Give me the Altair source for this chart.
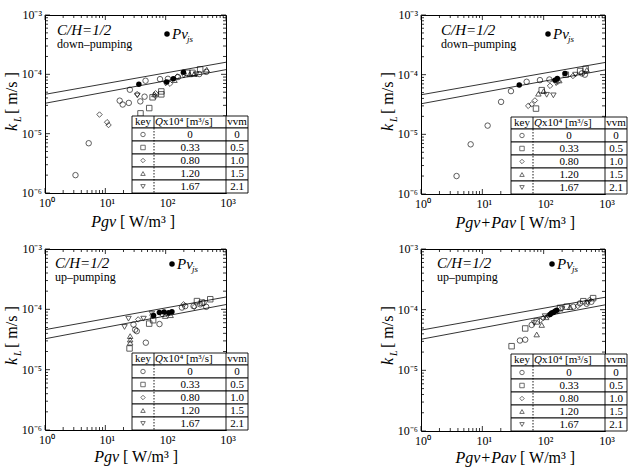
import altair as alt
import pandas as pd

SERIF = "Liberation Serif"

# ---------------- data ----------------
SERIES = ["0", "0.33", "0.80", "1.20", "1.67"]
SHAPES = ["circle", "square", "diamond", "triangle-up", "triangle-down"]
VVM = ["0", "0.5", "1.0", "1.5", "2.1"]

X_TICKS = [1, 10, 100, 1000]
X_TICK_LABELS = ["10⁰", "10¹", "10²", "10³"]
Y_TICKS = [1e-6, 1e-5, 1e-4, 1e-3]
Y_TICK_LABELS = ["10⁻⁶", "10⁻⁵", "10⁻⁴", "10⁻³"]

LINE_P = [1, 1000]
LINE_UPPER = [4.6e-5, 1.6e-4]
LINE_LOWER = [3.25e-5, 1.2e-4]

# panel 1: down-pumping, Pgv
P1_C_P = [3.2, 5.3, 17.3, 19.4, 24.5, 25.5, 38, 44.7, 46.4, 80.6, 109, 160, 360, 470]
P1_C_K = [2.0e-6, 6.9e-6, 3.6e-5, 3.1e-5, 3.3e-5, 5.5e-5, 3.5e-5, 4.2e-5, 7.8e-5, 8.3e-5, 8.4e-5, 9.0e-5, 1.01e-4, 1.1e-4]
P1_S_P = [38.3, 53.4, 60.7, 84.7, 84.7, 230, 278, 373]
P1_S_K = [2.2e-5, 2.7e-5, 4.1e-5, 5.15e-5, 4.6e-5, 1.06e-4, 1.06e-4, 1.21e-4]
P1_D_P = [8.0, 10.7, 11.3, 33.7, 68, 68, 118, 156]
P1_D_K = [2.1e-5, 1.56e-5, 1.4e-5, 4.65e-5, 4.3e-5, 4.8e-5, 6.95e-5, 9.2e-5]
P1_T_P = [65, 140, 250, 297, 480]
P1_T_K = [4.6e-5, 8.0e-5, 1.0e-4, 1.01e-4, 1.2e-4]
P1_V_P = [34, 100, 200, 320]
P1_V_K = [4.4e-5, 7.0e-5, 9.5e-5, 1.0e-4]
P1_F_P = [36, 104, 134, 197]
P1_F_K = [6.8e-5, 7.4e-5, 8.4e-5, 1.08e-4]

# panel 2: down-pumping, Pgv+Pav
P2_C_P = [3.8, 6.45, 12.2, 20.2, 29.3, 52.8, 87, 124, 420, 470]
P2_C_K = [2.0e-6, 6.8e-6, 1.4e-5, 3.5e-5, 5.3e-5, 7.6e-5, 8.1e-5, 8.3e-5, 1.05e-4, 1.0e-4]
P2_S_P = [75, 93, 230, 393, 484]
P2_S_K = [2.7e-5, 5.5e-5, 1.0e-4, 1.15e-4, 1.25e-4]
P2_D_P = [56, 64, 72, 127, 170, 300]
P2_D_K = [3.0e-5, 3.2e-5, 3.7e-5, 6.5e-5, 7.6e-5, 9.5e-5]
P2_T_P = [82, 100, 180, 505]
P2_T_K = [4.8e-5, 5.3e-5, 8.0e-5, 1.2e-4]
P2_V_P = [112, 144, 160, 330]
P2_V_K = [4.6e-5, 4.5e-5, 7.2e-5, 1.0e-4]
P2_F_P = [40, 153, 167, 223]
P2_F_K = [6.7e-5, 8.1e-5, 8.6e-5, 1.05e-4]

# panel 3: up-pumping, Pgv
P3_C_P = [29.3, 31.2, 33.2, 46.9, 79, 186, 211, 290, 374, 425, 470]
P3_C_K = [5.6e-5, 4.6e-5, 4.35e-5, 2.8e-5, 5.7e-5, 1.07e-4, 1.13e-4, 1.13e-4, 1.21e-4, 1.29e-4, 1.1e-4]
P3_S_P = [25.2, 53.3, 62, 330, 399, 548]
P3_S_K = [2.25e-5, 5.8e-5, 6.6e-5, 1.37e-4, 1.29e-4, 1.47e-4]
P3_D_P = [35, 60, 86.5, 198, 300]
P3_D_K = [6.8e-5, 8.0e-5, 8.3e-5, 1.21e-4, 1.1e-4]
P3_T_P = [25.8, 25.8, 25.8, 98, 121]
P3_T_K = [3.6e-5, 3.15e-5, 2.8e-5, 7.75e-5, 8.0e-5]
P3_V_P = [20.8, 24.2, 43, 59]
P3_V_K = [5.1e-5, 7.0e-5, 7.0e-5, 8.5e-5]
P3_F_P = [63, 78.7, 94, 112, 127]
P3_F_K = [7.9e-5, 8.9e-5, 9.0e-5, 8.8e-5, 9.1e-5]

# panel 4: up-pumping, Pgv+Pav
P4_C_P = [41, 50, 63.7, 305, 391, 502, 600]
P4_C_K = [3.1e-5, 3.2e-5, 5.6e-5, 1.12e-4, 1.27e-4, 1.25e-4, 1.35e-4]
P4_S_P = [30, 50, 77, 185, 237, 443, 640]
P4_S_K = [2.5e-5, 4.9e-5, 6.4e-5, 1.07e-4, 1.12e-4, 1.38e-4, 1.55e-4]
P4_D_P = [87, 99, 120, 170, 360, 560]
P4_D_K = [6.6e-5, 7.3e-5, 8.0e-5, 9.5e-5, 1.15e-4, 1.45e-4]
P4_T_P = [77, 93, 110, 270]
P4_T_K = [3.9e-5, 5.6e-5, 7.5e-5, 1.1e-4]
P4_V_P = [70, 105, 200, 520]
P4_V_K = [6.0e-5, 7.8e-5, 1.02e-4, 1.3e-4]
P4_F_P = [127, 135, 144, 153, 163]
P4_F_K = [8.3e-5, 8.8e-5, 9.0e-5, 9.4e-5, 9.75e-5]

# ---------------- helpers ----------------
XSCALE = alt.Scale(type="log", domain=[1, 1000], nice=False)
YSCALE = alt.Scale(type="log", domain=[1e-6, 1e-3], nice=False)
SHAPE_SCALE = alt.Scale(domain=SERIES, range=SHAPES)

MINOR = [m * d for d in [1, 10, 100] for m in range(2, 10)]
YMINOR = [m * d for d in [1e-6, 1e-5, 1e-4] for m in range(2, 10)]


def one(t=""):
    return pd.DataFrame({"t": [t]})


def txt(t, x, y, size, style="normal", align="left", baseline="middle", angle=0, dy=0):
    kw = dict(font=SERIF, fontSize=size, fontStyle=style, align=align,
              baseline=baseline, color="black", dy=dy)
    if angle:
        kw["angle"] = angle
    return alt.Chart(one(t)).mark_text(**kw).encode(
        x=alt.value(x), y=alt.value(y), text="t:N")


def panel(cfg):
    W, H = cfg["W"], cfg["H"]
    layers = []
    XF = lambda f: alt.X(f, scale=XSCALE, axis=None)
    YF = lambda f: alt.Y(f, scale=YSCALE, axis=None)

    # correlation lines
    ldf = pd.DataFrame({
        "P": LINE_P + LINE_P,
        "k": LINE_UPPER + LINE_LOWER,
        "g": ["u", "u", "l", "l"],
    })
    layers.append(alt.Chart(ldf).mark_line(color="black", strokeWidth=0.8).encode(
        x=XF("P:Q"), y=YF("k:Q"), detail="g:N"))

    # ticks (inward, all four sides)
    for vals, L in [(X_TICKS, 5), (MINOR, 3)]:
        tdf = pd.DataFrame({"v": vals})
        b = alt.Chart(tdf).mark_rule(color="black", strokeWidth=0.8)
        layers.append(b.encode(x=XF("v:Q"), y=alt.value(H), y2=alt.value(H - L)))
        layers.append(b.encode(x=XF("v:Q"), y=alt.value(0), y2=alt.value(L)))
    for vals, L in [(Y_TICKS, 5), (YMINOR, 3)]:
        tdf = pd.DataFrame({"v": vals})
        b = alt.Chart(tdf).mark_rule(color="black", strokeWidth=0.8)
        layers.append(b.encode(y=YF("v:Q"), x=alt.value(0), x2=alt.value(L)))
        layers.append(b.encode(y=YF("v:Q"), x=alt.value(W), x2=alt.value(W - L)))

    # tick labels
    xl = pd.DataFrame({"v": X_TICKS, "lab": X_TICK_LABELS})
    layers.append(alt.Chart(xl).mark_text(font=SERIF, fontSize=12, color="black",
                                          align="center", baseline="middle", dx=2).encode(
        x=XF("v:Q"), y=alt.value(H + 10), text="lab:N"))
    yl = pd.DataFrame({"v": Y_TICKS, "lab": Y_TICK_LABELS})
    layers.append(alt.Chart(yl).mark_text(font=SERIF, fontSize=12, color="black",
                                          align="right", baseline="middle").encode(
        y=YF("v:Q"), x=alt.value(-3), text="lab:N"))

    # open symbols
    rows = []
    for s, (ps, ks) in zip(SERIES, cfg["series"]):
        for p, k in zip(ps, ks):
            rows.append({"P": p, "k": k, "series": s})
    pdf = pd.DataFrame(rows)
    layers.append(alt.Chart(pdf).mark_point(filled=False, color="black", size=30, strokeWidth=0.9).encode(
        x=XF("P:Q"), y=YF("k:Q"),
        shape=alt.Shape("series:N", scale=SHAPE_SCALE, legend=None)))

    # filled Pvjs points
    fP, fK = cfg["filled"]
    fdf = pd.DataFrame({"P": fP, "k": fK})
    layers.append(alt.Chart(fdf).mark_point(filled=True, shape="circle", color="black", size=30, opacity=1).encode(
        x=XF("P:Q"), y=YF("k:Q")))

    # annotations
    cx, cy = cfg["ch"]
    layers.append(txt("C/H=1/2", cx, cy, 15, style="italic"))
    layers.append(txt(cfg["mode"], cx, cy + 14, 12))
    lx, ly = cfg["leg"]
    layers.append(alt.Chart(one()).mark_point(filled=True, shape="circle", color="black", size=30, opacity=1).encode(
        x=alt.value(lx), y=alt.value(ly)))
    layers.append(txt("Pv", lx + 5, ly + 5, 15, style="italic", baseline="alphabetic"))
    layers.append(txt("js", lx + 20, ly + 8, 9, style="italic", baseline="alphabetic"))

    # axis titles
    xs_ = cfg["xsplit"]
    tb = H + cfg["tb"]
    layers.append(txt(cfg["xt"], xs_, tb, 16, style="italic", align="right", baseline="alphabetic"))
    layers.append(txt("[ W/m³ ]", xs_ + 4, tb, 16, align="left", baseline="alphabetic"))
    layers.append(txt("k", -28, 116, 16, style="italic", align="left", baseline="alphabetic", angle=270))
    layers.append(txt("L", -24, 107, 10, style="italic", align="left", baseline="alphabetic", angle=270))
    layers.append(txt("[ m/s ]", -28, 99, 16, align="left", baseline="alphabetic", angle=270))

    main = alt.layer(*layers)

    # ---------- table ----------
    tl, ks, qs, tr = W - 94, W - 72, W, W + 22
    top, hb = H - 77, H - 65
    tdf = pd.DataFrame({"row": list(range(5)), "series": SERIES, "q": SERIES, "vvm": VVM})
    yscale = alt.Scale(type="band", domain=list(range(5)), range=[hb, H], paddingInner=0, paddingOuter=0)
    yb = alt.Y("row:O", scale=yscale, axis=None)
    yc = alt.Y("row:O", scale=yscale, axis=None, bandPosition=0.5)
    tlayers = [
        alt.Chart(one()).mark_rect(fill="white", stroke="black", strokeWidth=0.9).encode(
            x=alt.value(tl), x2=alt.value(tr), y=alt.value(top), y2=alt.value(hb)),
        alt.Chart(tdf).mark_rect(fill="white", stroke="black", strokeWidth=0.9).encode(
            x=alt.value(tl), x2=alt.value(tr), y=yb),
        alt.Chart(one()).mark_rule(color="black", strokeWidth=0.9).encode(
            x=alt.value(ks), y=alt.value(top), y2=alt.value(hb)),
        alt.Chart(one()).mark_rule(color="black", strokeWidth=0.9, strokeDash=[1.5, 1.5]).encode(
            x=alt.value(ks), y=alt.value(hb), y2=alt.value(H)),
        alt.Chart(one()).mark_rule(color="black", strokeWidth=0.9).encode(
            x=alt.value(qs), y=alt.value(top), y2=alt.value(H)),
        txt("key", (tl + ks) / 2, (top + hb) / 2, 11, align="center"),
        txt("Q", ks + 9, (top + hb) / 2, 11, style="italic", align="right"),
        txt("x10⁴ [m³/s]", ks + 9, (top + hb) / 2, 11, align="left"),
        txt("vvm", (qs + tr) / 2, (top + hb) / 2, 11, align="center"),
        alt.Chart(tdf).mark_text(font=SERIF, fontSize=11, color="black").encode(
            x=alt.value((ks + qs) / 2), y=yc, text="q:N"),
        alt.Chart(tdf).mark_text(font=SERIF, fontSize=11, color="black").encode(
            x=alt.value((qs + tr) / 2), y=yc, text="vvm:N"),
        alt.Chart(tdf).mark_point(filled=False, color="black", size=20, strokeWidth=0.8).encode(
            x=alt.value((tl + ks) / 2), y=yc,
            shape=alt.Shape("series:N", scale=SHAPE_SCALE, legend=None)),
    ]
    table = alt.layer(*tlayers)

    return alt.layer(main, table).resolve_scale(y="independent").properties(width=W, height=H)


cfgs = [
    dict(W=181, H=178, ch=(12, 15), mode="down–pumping", leg=(122, 19), xt="Pgv", xsplit=71, tb=34,
         series=[(P1_C_P, P1_C_K), (P1_S_P, P1_S_K), (P1_D_P, P1_D_K), (P1_T_P, P1_T_K), (P1_V_P, P1_V_K)],
         filled=(P1_F_P, P1_F_K)),
    dict(W=184, H=179, ch=(20, 15), mode="down–pumping", leg=(127, 19), xt="Pgv+Pav", xsplit=95, tb=34,
         series=[(P2_C_P, P2_C_K), (P2_S_P, P2_S_K), (P2_D_P, P2_D_K), (P2_T_P, P2_T_K), (P2_V_P, P2_V_K)],
         filled=(P2_F_P, P2_F_K)),
    dict(W=181, H=181, ch=(10, 14), mode="up–pumping", leg=(127, 15), xt="Pgv", xsplit=74, tb=32,
         series=[(P3_C_P, P3_C_K), (P3_S_P, P3_S_K), (P3_D_P, P3_D_K), (P3_T_P, P3_T_K), (P3_V_P, P3_V_K)],
         filled=(P3_F_P, P3_F_K)),
    dict(W=184, H=182, ch=(16, 14), mode="up–pumping", leg=(131, 15), xt="Pgv+Pav", xsplit=95, tb=32,
         series=[(P4_C_P, P4_C_K), (P4_S_P, P4_S_K), (P4_D_P, P4_D_K), (P4_T_P, P4_T_K), (P4_V_P, P4_V_K)],
         filled=(P4_F_P, P4_F_K)),
]

panels = [panel(c) for c in cfgs]

chart = alt.concat(
    *panels, columns=2, bounds="flush", align="all",
    spacing={"row": 52, "column": 192},
).properties(
    padding={"left": 3, "top": 8, "right": 0, "bottom": 0},
    background="white",
).configure_view(stroke="black", strokeWidth=1)

chart.save("out.html", embed_options={"renderer": "svg", "actions": False})
